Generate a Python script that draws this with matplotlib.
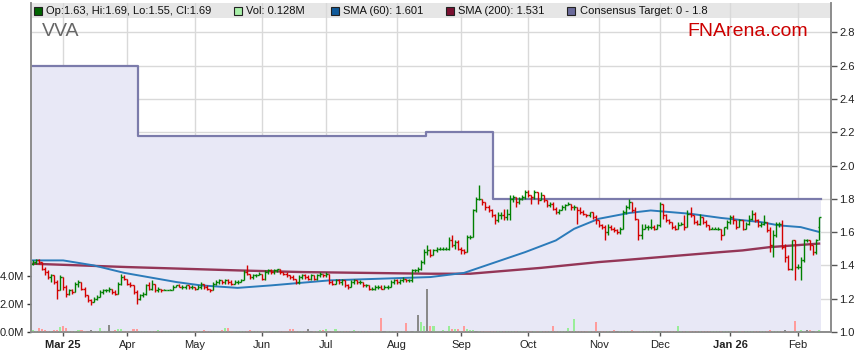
import matplotlib
matplotlib.use("Agg")
import matplotlib.pyplot as plt
from matplotlib.patches import Rectangle
import numpy as np
import pandas as pd

plt.rcParams['font.family'] = ['Liberation Sans', 'DejaVu Sans']

# trading days shown on the chart (weekdays only)
dates = pd.bdate_range('2025-02-17', '2026-02-11')

# daily OHLC, one row per month
opens = [
    1.41, 1.42, 1.43, 1.42, 1.38, 1.36, 1.33, 1.34, 1.30, 1.25,
    1.33, 1.27, 1.23, 1.25, 1.24, 1.29, 1.30, 1.26, 1.22, 1.19, 1.18, 1.20, 1.21, 1.24, 1.25, 1.25, 1.26, 1.24, 1.23, 1.29, 1.33,
    1.32, 1.29, 1.28, 1.24, 1.20, 1.22, 1.23, 1.28, 1.26, 1.29, 1.25, 1.26, 1.25, 1.25, 1.25, 1.25, 1.27, 1.28, 1.27, 1.27, 1.28, 1.27,
    1.27, 1.26, 1.27, 1.29, 1.27, 1.26, 1.25, 1.29, 1.30, 1.31, 1.30, 1.31, 1.30, 1.29, 1.30, 1.30, 1.31, 1.36, 1.35, 1.33, 1.34, 1.34,
    1.35, 1.32, 1.36, 1.37, 1.36, 1.37, 1.38, 1.36, 1.35, 1.34, 1.33, 1.32, 1.30, 1.33, 1.34, 1.33, 1.32, 1.34, 1.32, 1.34, 1.35,
    1.34, 1.35, 1.30, 1.29, 1.31, 1.30, 1.31, 1.28, 1.27, 1.30, 1.31, 1.30, 1.30, 1.28, 1.28, 1.26, 1.26, 1.27, 1.27, 1.26, 1.27, 1.27, 1.30,
    1.31, 1.30, 1.31, 1.32, 1.31, 1.31, 1.37, 1.37, 1.38, 1.42, 1.48, 1.49, 1.46, 1.49, 1.50, 1.50, 1.50, 1.50, 1.55, 1.52, 1.54,
    1.50, 1.49, 1.48, 1.57, 1.57, 1.73, 1.80, 1.80, 1.78, 1.75, 1.73, 1.70, 1.67, 1.70, 1.70, 1.69, 1.71, 1.80, 1.81, 1.78, 1.80, 1.81,
    1.84, 1.82, 1.81, 1.84, 1.79, 1.82, 1.79, 1.76, 1.77, 1.74, 1.72, 1.73, 1.75, 1.76, 1.77, 1.75, 1.75, 1.73, 1.72, 1.71, 1.70, 1.72, 1.69,
    1.67, 1.64, 1.63, 1.60, 1.63, 1.62, 1.61, 1.60, 1.62, 1.72, 1.75, 1.78, 1.73, 1.68, 1.58, 1.62, 1.63, 1.63, 1.63, 1.62,
    1.64, 1.77, 1.70, 1.67, 1.66, 1.63, 1.62, 1.64, 1.65, 1.63, 1.71, 1.70, 1.66, 1.65, 1.69, 1.66, 1.64, 1.62, 1.62, 1.62, 1.62, 1.58, 1.63,
    1.66, 1.69, 1.67, 1.63, 1.67, 1.62, 1.65, 1.68, 1.71, 1.67, 1.64, 1.65, 1.66, 1.61, 1.52, 1.58, 1.65, 1.65, 1.51, 1.45, 1.38, 1.55,
    1.39, 1.39, 1.43, 1.55, 1.55, 1.52, 1.48, 1.63,
]
highs = [
    1.43, 1.44, 1.44, 1.42, 1.39, 1.37, 1.35, 1.34, 1.31, 1.34,
    1.33, 1.28, 1.26, 1.26, 1.30, 1.31, 1.30, 1.27, 1.22, 1.20, 1.21, 1.22, 1.25, 1.26, 1.26, 1.27, 1.26, 1.25, 1.30, 1.35, 1.34,
    1.32, 1.30, 1.28, 1.25, 1.23, 1.24, 1.29, 1.30, 1.31, 1.29, 1.27, 1.26, 1.26, 1.25, 1.26, 1.28, 1.28, 1.29, 1.28, 1.28, 1.28, 1.28,
    1.27, 1.28, 1.30, 1.29, 1.28, 1.26, 1.30, 1.31, 1.32, 1.31, 1.32, 1.32, 1.31, 1.31, 1.31, 1.32, 1.37, 1.40, 1.35, 1.35, 1.35, 1.36,
    1.35, 1.37, 1.38, 1.38, 1.38, 1.38, 1.38, 1.36, 1.36, 1.34, 1.34, 1.32, 1.34, 1.35, 1.35, 1.34, 1.35, 1.34, 1.35, 1.36, 1.35,
    1.36, 1.35, 1.31, 1.32, 1.32, 1.32, 1.31, 1.29, 1.31, 1.32, 1.31, 1.31, 1.30, 1.29, 1.28, 1.27, 1.28, 1.28, 1.28, 1.28, 1.28, 1.31, 1.32,
    1.32, 1.32, 1.33, 1.32, 1.32, 1.38, 1.38, 1.39, 1.43, 1.50, 1.52, 1.50, 1.50, 1.51, 1.51, 1.51, 1.51, 1.57, 1.58, 1.55, 1.55,
    1.51, 1.50, 1.58, 1.58, 1.74, 1.81, 1.88, 1.80, 1.78, 1.76, 1.74, 1.71, 1.72, 1.72, 1.74, 1.74, 1.82, 1.82, 1.81, 1.81, 1.82, 1.85,
    1.85, 1.82, 1.85, 1.84, 1.84, 1.82, 1.79, 1.78, 1.78, 1.75, 1.74, 1.76, 1.77, 1.78, 1.77, 1.76, 1.75, 1.75, 1.73, 1.71, 1.72, 1.72, 1.70,
    1.67, 1.65, 1.64, 1.65, 1.64, 1.63, 1.62, 1.63, 1.73, 1.76, 1.80, 1.78, 1.75, 1.68, 1.65, 1.65, 1.64, 1.68, 1.64, 1.65,
    1.78, 1.77, 1.71, 1.68, 1.66, 1.64, 1.66, 1.66, 1.70, 1.73, 1.75, 1.70, 1.67, 1.71, 1.69, 1.67, 1.64, 1.63, 1.63, 1.63, 1.62, 1.63, 1.67,
    1.70, 1.70, 1.67, 1.68, 1.67, 1.66, 1.70, 1.73, 1.72, 1.68, 1.66, 1.70, 1.66, 1.63, 1.61, 1.66, 1.66, 1.67, 1.53, 1.46, 1.55, 1.55,
    1.41, 1.45, 1.56, 1.56, 1.55, 1.52, 1.56, 1.69,
]
lows = [
    1.40, 1.41, 1.41, 1.37, 1.34, 1.32, 1.30, 1.29, 1.20, 1.25,
    1.25, 1.21, 1.22, 1.23, 1.24, 1.27, 1.25, 1.21, 1.18, 1.16, 1.18, 1.19, 1.21, 1.23, 1.24, 1.24, 1.23, 1.22, 1.23, 1.28, 1.31,
    1.28, 1.27, 1.23, 1.17, 1.19, 1.21, 1.22, 1.25, 1.25, 1.24, 1.24, 1.24, 1.25, 1.25, 1.25, 1.25, 1.27, 1.27, 1.26, 1.26, 1.26, 1.26,
    1.25, 1.26, 1.26, 1.26, 1.25, 1.24, 1.25, 1.28, 1.29, 1.29, 1.29, 1.29, 1.28, 1.29, 1.29, 1.30, 1.31, 1.34, 1.32, 1.32, 1.33, 1.34,
    1.31, 1.31, 1.35, 1.35, 1.35, 1.36, 1.35, 1.34, 1.33, 1.32, 1.31, 1.29, 1.29, 1.32, 1.32, 1.31, 1.31, 1.31, 1.31, 1.33, 1.33,
    1.33, 1.29, 1.28, 1.29, 1.29, 1.28, 1.27, 1.26, 1.27, 1.29, 1.29, 1.29, 1.27, 1.27, 1.25, 1.25, 1.25, 1.26, 1.26, 1.26, 1.26, 1.27, 1.29,
    1.29, 1.29, 1.30, 1.30, 1.30, 1.30, 1.36, 1.36, 1.37, 1.41, 1.46, 1.45, 1.46, 1.48, 1.49, 1.49, 1.49, 1.49, 1.51, 1.50, 1.49,
    1.47, 1.47, 1.48, 1.56, 1.57, 1.72, 1.79, 1.76, 1.73, 1.72, 1.69, 1.65, 1.66, 1.68, 1.67, 1.67, 1.67, 1.78, 1.75, 1.77, 1.79, 1.80,
    1.81, 1.77, 1.80, 1.77, 1.79, 1.78, 1.75, 1.75, 1.73, 1.71, 1.71, 1.73, 1.73, 1.76, 1.73, 1.73, 1.65, 1.71, 1.70, 1.69, 1.69, 1.68, 1.65,
    1.63, 1.62, 1.55, 1.58, 1.61, 1.60, 1.59, 1.59, 1.62, 1.71, 1.74, 1.72, 1.67, 1.55, 1.56, 1.62, 1.61, 1.62, 1.61, 1.62,
    1.63, 1.68, 1.66, 1.65, 1.62, 1.61, 1.62, 1.64, 1.61, 1.63, 1.69, 1.65, 1.64, 1.64, 1.65, 1.63, 1.61, 1.62, 1.62, 1.61, 1.55, 1.58, 1.62,
    1.65, 1.65, 1.62, 1.63, 1.61, 1.62, 1.64, 1.67, 1.66, 1.63, 1.63, 1.64, 1.60, 1.48, 1.45, 1.57, 1.63, 1.50, 1.42, 1.37, 1.37, 1.31,
    1.38, 1.31, 1.42, 1.54, 1.49, 1.46, 1.47, 1.55,
]
closes = [
    1.42, 1.43, 1.42, 1.38, 1.36, 1.33, 1.34, 1.30, 1.25, 1.33,
    1.27, 1.23, 1.25, 1.24, 1.29, 1.30, 1.26, 1.22, 1.19, 1.18, 1.20, 1.21, 1.24, 1.25, 1.25, 1.26, 1.24, 1.23, 1.29, 1.33, 1.32,
    1.29, 1.28, 1.24, 1.20, 1.22, 1.23, 1.28, 1.26, 1.29, 1.25, 1.26, 1.25, 1.25, 1.25, 1.25, 1.27, 1.28, 1.27, 1.27, 1.28, 1.27, 1.27,
    1.26, 1.27, 1.29, 1.27, 1.26, 1.25, 1.29, 1.30, 1.31, 1.30, 1.31, 1.30, 1.29, 1.30, 1.30, 1.31, 1.36, 1.35, 1.33, 1.34, 1.34, 1.35,
    1.32, 1.36, 1.37, 1.36, 1.37, 1.38, 1.36, 1.35, 1.34, 1.33, 1.32, 1.30, 1.33, 1.34, 1.33, 1.32, 1.34, 1.32, 1.34, 1.35, 1.34,
    1.35, 1.30, 1.29, 1.31, 1.30, 1.31, 1.28, 1.27, 1.30, 1.31, 1.30, 1.30, 1.28, 1.28, 1.26, 1.26, 1.27, 1.27, 1.26, 1.27, 1.27, 1.30, 1.31,
    1.30, 1.31, 1.32, 1.31, 1.31, 1.37, 1.37, 1.38, 1.42, 1.48, 1.49, 1.46, 1.49, 1.50, 1.50, 1.50, 1.50, 1.55, 1.52, 1.54, 1.50,
    1.49, 1.48, 1.57, 1.57, 1.73, 1.80, 1.80, 1.78, 1.75, 1.73, 1.70, 1.67, 1.70, 1.70, 1.69, 1.71, 1.80, 1.81, 1.78, 1.80, 1.81, 1.84,
    1.82, 1.81, 1.84, 1.79, 1.82, 1.79, 1.76, 1.77, 1.74, 1.72, 1.73, 1.75, 1.76, 1.77, 1.75, 1.75, 1.73, 1.72, 1.71, 1.70, 1.72, 1.69, 1.67,
    1.64, 1.63, 1.60, 1.63, 1.62, 1.61, 1.60, 1.62, 1.72, 1.75, 1.78, 1.73, 1.68, 1.58, 1.62, 1.63, 1.63, 1.63, 1.62, 1.64,
    1.77, 1.70, 1.67, 1.66, 1.63, 1.62, 1.64, 1.65, 1.63, 1.71, 1.70, 1.66, 1.65, 1.69, 1.66, 1.64, 1.62, 1.62, 1.62, 1.62, 1.58, 1.63, 1.66,
    1.69, 1.67, 1.63, 1.67, 1.62, 1.65, 1.68, 1.71, 1.67, 1.64, 1.65, 1.66, 1.61, 1.52, 1.58, 1.65, 1.65, 1.51, 1.45, 1.38, 1.55, 1.39,
    1.39, 1.43, 1.55, 1.55, 1.52, 1.48, 1.55, 1.69,
]
# daily volume in millions of shares
volumes = [
    0.14, 0.10, 0.26, 0.22, 0.15, 0.08, 0.10, 0.12, 0.15, 0.38,
    0.45, 0.30, 0.08, 0.10, 0.06, 0.12, 0.14, 0.08, 0.10, 0.12, 0.06, 0.08, 0.26, 0.06, 0.08, 0.50, 0.10, 0.17, 0.22, 0.20, 0.06,
    0.08, 0.07, 0.20, 0.25, 0.08, 0.06, 0.10, 0.05, 0.08, 0.07, 0.12, 0.05, 0.06, 0.08, 0.05, 0.07, 0.06, 0.05, 0.06, 0.10, 0.06,
    0.05, 0.08, 0.06, 0.10, 0.12, 0.06, 0.05, 0.08, 0.06, 0.10, 0.12, 0.30, 0.32, 0.06, 0.05, 0.06, 0.04, 0.10, 0.08, 0.12, 0.10, 0.05,
    0.06, 0.08, 0.05, 0.06, 0.06, 0.05, 0.10, 0.05, 0.06, 0.08, 0.20, 0.18, 0.05, 0.06, 0.05, 0.06, 0.18, 0.08, 0.06, 0.05, 0.12,
    0.13, 0.25, 0.06, 0.05, 0.18, 0.06, 0.05, 0.10, 0.06, 0.05, 0.12, 0.05, 0.06, 0.10, 0.08, 0.05, 0.06, 0.10, 0.08, 1.00, 0.10, 0.06, 0.10,
    0.06, 0.08, 0.06, 0.10, 0.66, 0.10, 0.08, 0.06, 1.20, 0.70, 0.45, 3.10, 0.45, 0.40, 0.10, 0.08, 0.12, 0.06, 0.45, 0.20, 0.25,
    0.22, 0.10, 0.40, 0.18, 0.15, 0.12, 0.06, 0.08, 0.10, 0.06, 0.08, 0.06, 0.10, 0.06, 0.05, 0.08, 0.06, 0.05, 0.08, 0.10, 0.05, 0.08,
    0.06, 0.05, 0.08, 0.06, 0.05, 0.06, 0.05, 0.05, 0.08, 0.45, 0.06, 0.05, 0.06, 0.08, 0.30, 0.06, 0.93, 0.08, 0.05, 0.06, 0.08, 0.05, 0.06,
    0.70, 0.10, 0.05, 0.06, 0.08, 0.05, 0.15, 0.08, 0.05, 0.06, 0.08, 0.10, 0.12, 0.10, 0.06, 0.05, 0.06, 0.05, 0.08, 0.06,
    0.05, 0.06, 0.08, 0.05, 0.06, 0.05, 0.06, 0.43, 0.05, 0.06, 0.05, 0.06, 0.08, 0.05, 0.06, 0.05, 0.06, 0.05, 0.06, 0.05, 0.06, 0.08, 0.05,
    0.06, 0.05, 0.06, 0.05, 0.06, 0.05, 0.06, 0.05, 0.06, 0.05, 0.06, 0.05, 0.10, 0.08, 0.12, 0.10, 0.08, 0.06, 0.10, 0.12, 0.10, 0.06,
    0.80, 0.08, 0.12, 0.10, 0.12, 0.12, 0.10, 0.08, 0.128,
]
grey_vol_days = [18, 19, 25, 90, 91, 115, 124, 126, 129, 145, 191, 246, 253, 255]

# moving averages, read at a few points along each line
sma60_days = [0, 10, 20, 30, 47, 55, 67, 78, 97, 130, 141, 153, 161, 171, 177, 185, 195, 202, 215, 225, 238, 244, 251, 257]
sma60_vals = [1.43, 1.43, 1.40, 1.355, 1.30, 1.28, 1.265, 1.28, 1.31, 1.33, 1.355, 1.43, 1.48, 1.55, 1.62, 1.68, 1.715, 1.73,
              1.71, 1.685, 1.66, 1.64, 1.63, 1.601]
sma200_days = [0, 31, 67, 88, 130, 143, 166, 185, 192, 225, 232, 241, 257]
sma200_vals = [1.41, 1.39, 1.37, 1.36, 1.35, 1.35, 1.385, 1.42, 1.43, 1.48, 1.49, 1.51, 1.531]

# consensus target changes
target_dates = ['2025-02-17', '2025-04-07', '2025-08-15', '2025-09-16']
target_vals = [2.60, 2.18, 2.20, 1.80]

price_ticks = [1.0, 1.2, 1.4, 1.6, 1.8, 2.0, 2.2, 2.4, 2.6, 2.8]
vol_ticks = [0, 2, 4]

n = len(dates)
for name, arr in [('opens', opens), ('highs', highs), ('lows', lows), ('closes', closes), ('volumes', volumes)]:
    if len(arr) != n:
        raise SystemExit('%s has %d values, expected %d' % (name, len(arr), n))

x = np.arange(n)
o = np.array(opens)
h = np.array(highs)
l = np.array(lows)
c = np.array(closes)
up = c >= o

fig = plt.figure(figsize=(8.59, 3.63), dpi=100)
ax = fig.add_axes([31 / 859, 1 - 332 / 363, 800 / 859, 329 / 363])
ax.set_xlim(-0.5, 260.9)
ax.set_ylim(1.0, 2.976)

# grey legend band along the top
ax.add_patch(Rectangle((0, 0.954), 1, 0.046, transform=ax.transAxes,
                       facecolor='#e6e6e6', edgecolor='none', zorder=0.2))
ax.set_axisbelow(True)
ax.grid(True, color='#d9d9d9', lw=1)

# consensus target area
t_idx = [dates.get_loc(pd.Timestamp(d)) for d in target_dates]
tx = [i - 0.5 for i in t_idx] + [n - 0.5]
ty = target_vals + [target_vals[-1]]
ax.fill_between(tx, 1.0, ty, step='post', color='#e8e8f6', lw=0, zorder=1)
ax.step(tx, ty, where='post', color='#7b7bab', lw=1.6, zorder=1.5)

# moving averages
ax.plot(sma200_days, sma200_vals, color='#8b2346', lw=1.7, alpha=0.9, zorder=2)
ax.plot(sma60_days, sma60_vals, color='#2b7bba', lw=1.4, zorder=2.1)

# OHLC bars
cols = np.where(up, '#008000', '#d40000')
ax.vlines(x, l, h, colors=cols, lw=1.0, zorder=3)
ax.hlines(o, x - 0.5, x, colors=cols, lw=1.0, zorder=3)
ax.hlines(c, x, x + 0.5, colors=cols, lw=1.0, zorder=3)

# volume on its own scale
ax_v = ax.twinx()
ax_v.set_ylim(0, 23.5)
vcols = np.where(up, '#99ee99', '#ff9c9c').astype(object)
for i in grey_vol_days:
    vcols[i] = '#8a8a8a'
ax_v.bar(x, volumes, width=0.7, color=list(vcols), lw=0, zorder=1)

ax.yaxis.tick_right()
ax_v.yaxis.tick_left()
ax.set_yticks(price_ticks)
ax.set_yticklabels(['%.1f' % v for v in price_ticks])
ax_v.set_yticks(vol_ticks)
ax_v.set_yticklabels(['%.1fM' % v for v in vol_ticks])

# month ticks
m_pos = []
m_lab = []
for i in range(1, n):
    if dates[i].month != dates[i - 1].month:
        if not m_pos or dates[i].month == 1:
            m_lab.append(dates[i].strftime('%b %y'))
        else:
            m_lab.append(dates[i].strftime('%b'))
        m_pos.append(i)
ax.set_xticks(m_pos)
ax.set_xticklabels(m_lab)
for t in ax.get_xticklabels():
    if ' ' in t.get_text():
        t.set_fontweight('bold')

for a in (ax, ax_v):
    a.spines['top'].set_visible(False)
    for s in ('left', 'right', 'bottom'):
        a.spines[s].set_color('#8c8c8c')
        a.spines[s].set_linewidth(1.2)
ax.tick_params(axis='y', right=True, left=False, length=4, width=1, color='#555555',
               labelsize=8, labelcolor='#222222', pad=2)
ax_v.tick_params(axis='y', left=True, right=False, length=3, width=1, color='#333333',
                 labelsize=8, labelcolor='#222222', pad=2)
ax.tick_params(axis='x', length=3, width=1, color='#555555', labelsize=8,
               labelcolor='#222222', pad=3)

# titles
ax.text(0.0135, 0.912, 'VVA', transform=ax.transAxes, fontsize=14, color='#666666',
        ha='left', va='center', zorder=5)
ax.text(0.971, 0.912, 'FNArena.com', transform=ax.transAxes, fontsize=14, color='#cc0000',
        ha='right', va='center', zorder=5)

# legend strip
leg = [
    (37.8, '#006400', 'Op:1.63, Hi:1.69, Lo:1.55, Cl:1.69'),
    (237.8, '#a8f0a8', 'Vol: 0.128M'),
    (334.5, '#105a9a', 'SMA (60): 1.601'),
    (449.7, '#7a1030', 'SMA (200): 1.531'),
    (571.0, '#6b6b9b', 'Consensus Target: 0 - 1.8'),
]
ly = (332 - 10.5) / 329
for px, col, txt in leg:
    ax.plot([(px - 31) / 800], [ly], marker='s', ms=5.5, mfc=col, mec='#222222', mew=0.8,
            transform=ax.transAxes, clip_on=False, zorder=5)
    ax.text((px - 31 + 8.5) / 800, ly, txt, transform=ax.transAxes, fontsize=8,
            color='#111111', ha='left', va='center', zorder=5)

ax.set_xlim(-0.5, 260.9)
ax.set_ylim(1.0, 2.976)
fig.savefig('out.png', dpi=100)
